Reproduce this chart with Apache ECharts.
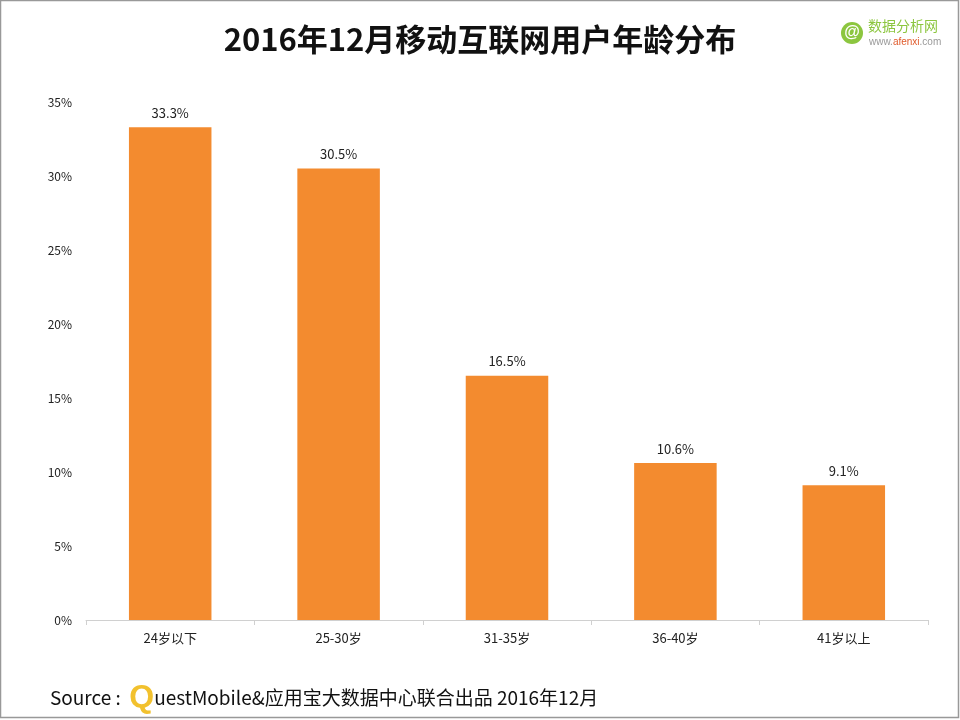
<!DOCTYPE html>
<html>
<head>
<meta charset="utf-8">
<script src="https://cdn.jsdelivr.net/npm/echarts@6/dist/echarts.min.js"></script>
<style>html,body{margin:0;padding:0;background:#fff}#c{width:960px;height:720px}</style>
</head>
<body>
<div id="c"></div>
<script>
const categories = ['24岁以下', '25-30岁', '31-35岁', '36-40岁', '41岁以上'];
const shares = [33.3, 30.5, 16.5, 10.6, 9.1];
const yTicks = [0, 5, 10, 15, 20, 25, 30, 35];

const font = '"Noto Sans CJK SC", "Noto Sans", sans-serif';
const chart = echarts.init(document.getElementById('c'));
chart.setOption({
  backgroundColor: '#fff',
  animation: false,
  title: {
    text: '2016年12月移动互联网用户年龄分布',
    left: 'center',
    top: 19,
    textStyle: { fontFamily: font, fontSize: 31, fontWeight: 'bold', color: '#111' }
  },
  grid: { left: 86, right: 32, top: 102, bottom: 100 },
  xAxis: {
    type: 'category',
    data: categories,
    axisLine: { lineStyle: { color: '#d0d0d0' } },
    axisTick: { show: true, lineStyle: { color: '#d0d0d0' }, length: 5 },
    axisLabel: { color: '#222', fontFamily: font, fontSize: 13, margin: 12 }
  },
  yAxis: {
    type: 'value',
    min: yTicks[0], max: yTicks[yTicks.length - 1], interval: 5,
    splitLine: { show: false },
    axisLine: { show: false },
    axisTick: { show: false },
    axisLabel: { color: '#222', fontFamily: font, fontSize: 12, margin: 14, formatter: v => v + '%' }
  },
  series: [{
    type: 'bar',
    data: shares,
    barWidth: '49%',
    itemStyle: { color: '#F38B2F' },
    label: {
      show: true, position: 'top', distance: 8,
      color: '#222', fontFamily: font, fontSize: 13,
      formatter: p => p.value.toFixed(1) + '%'
    }
  }],
  graphic: [
    { type: 'rect', shape: { x: 0.5, y: 0.5, width: 958, height: 717 }, style: { fill: 'none', stroke: '#999', lineWidth: 1.5 } },
    { type: 'circle', shape: { cx: 852, cy: 33, r: 11 }, style: { fill: '#8cc63f' } },
    { type: 'text', x: 852, y: 33, style: { text: '@', fill: '#fff', font: 'bold 16px sans-serif', align: 'center', verticalAlign: 'middle' } },
    { type: 'text', x: 868, y: 33, style: { text: '数据分析网', fill: '#8cc63f', font: '14px ' + font, verticalAlign: 'bottom' } },
    { type: 'text', x: 869, y: 42, style: { rich: { a: { fill: '#999', fontSize: 10, fontFamily: 'sans-serif' }, b: { fill: '#e05a2a', fontSize: 10, fontFamily: 'sans-serif' } }, text: '{a|www.}{b|afenxi}{a|.com}', verticalAlign: 'middle' } },
    { type: 'text', x: 50, y: 698, style: {
        text: '{s|Source :  }{q|Q}{s|uestMobile&应用宝大数据中心联合出品 2016年12月}',
        verticalAlign: 'middle',
        rich: {
          s: { fontSize: 19, fontFamily: font, fill: '#111' },
          q: { fontSize: 32, fontWeight: 'bold', fontFamily: 'sans-serif', fill: '#f2c12e' }
        }
      } }
  ]
});
</script>
</body>
</html>
